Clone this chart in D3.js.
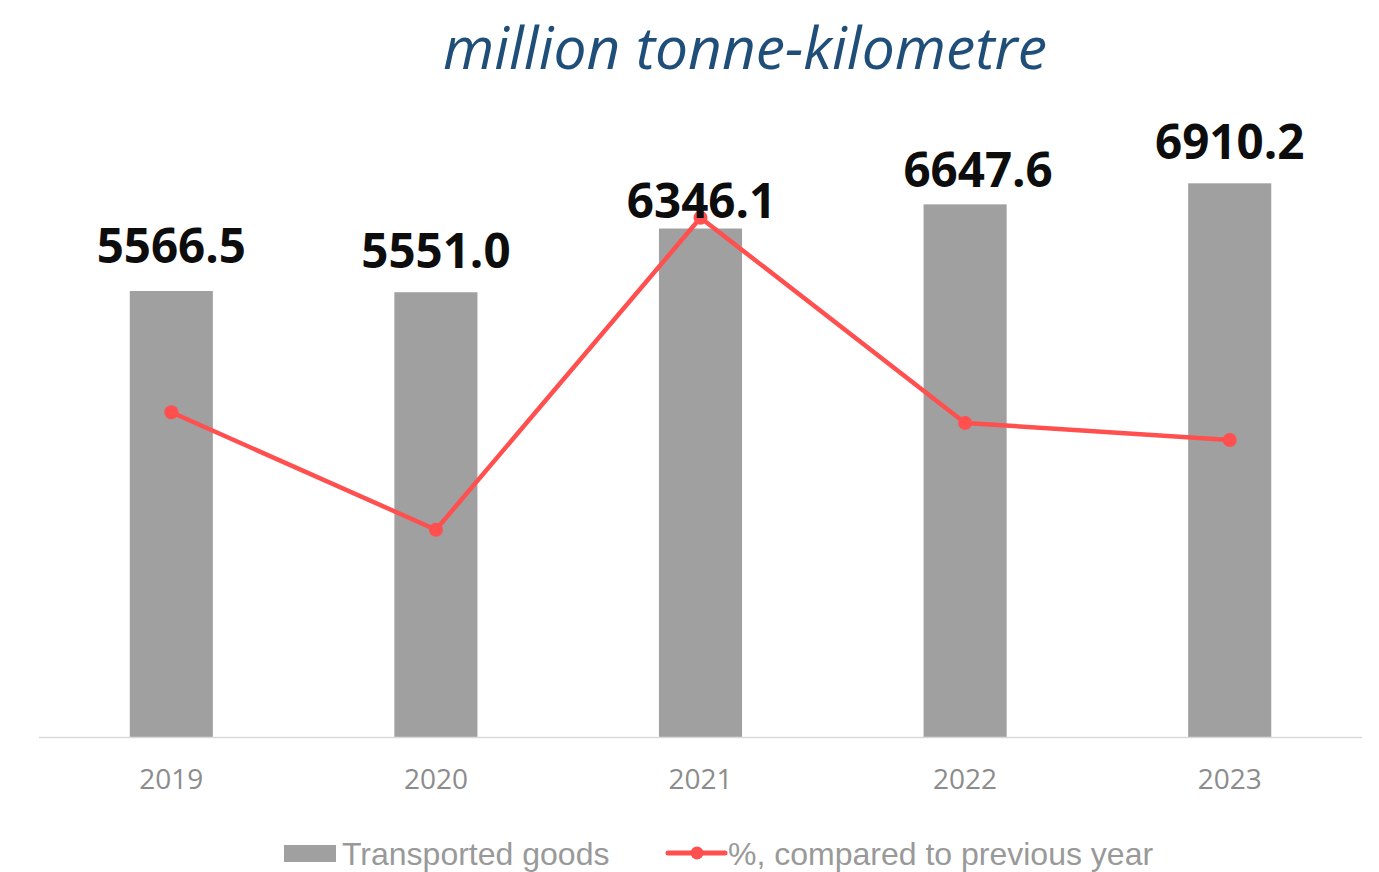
<!DOCTYPE html>
<html>
<head>
<meta charset="utf-8">
<script src="https://cdn.jsdelivr.net/npm/d3@7"></script>
<style>
  body { margin: 0; background: #fff; }
  svg { display: block; }
</style>
</head>
<body>
<svg id="chart"></svg>
<script>
// Data
const years = ["2019", "2020", "2021", "2022", "2023"];
const goods = [5566.5, 5551.0, 6346.1, 6647.6, 6910.2];
const pctPrev = [105.2, 99.7, 114.3, 104.7, 103.9];

// layout tweaks: value labels were nudged by hand in the original
const labelGap = [28, 24, 11, 17, 24];
const labelDx = [0, 0, 1, 13, 0];

const width = 1379, height = 872;
const margin = { top: 96, right: 17, bottom: 135, left: 39 };

const svg = d3.select("#chart").attr("width", width).attr("height", height);

const x = d3.scaleBand()
  .domain(years)
  .range([margin.left, width - margin.right])
  .paddingInner(0.686)
  .paddingOuter(0.343);

const y = d3.scaleLinear().domain([0, 8000]).range([height - margin.bottom, margin.top]);
const y2 = d3.scaleLinear().domain([90, 120]).range([height - margin.bottom, margin.top]);

// Title, shrunk to fit the width it takes in the original
const title = svg.append("text")
  .attr("x", 745)
  .attr("y", 69)
  .attr("text-anchor", "middle")
  .style("font-family", "'Open Sans', sans-serif")
  .style("font-style", "italic")
  .style("font-size", "52px")
  .style("fill", "#1F4E79")
  .text("million tonne-kilometre");
const tw = title.node().getComputedTextLength();
title.style("font-size", (52 * 604 / tw) + "px");

// Bars
svg.append("g").selectAll("rect")
  .data(goods)
  .join("rect")
  .attr("x", (d, i) => x(years[i]))
  .attr("width", x.bandwidth())
  .attr("y", d => y(d))
  .attr("height", d => y(0) - y(d))
  .attr("fill", "#A0A0A0");

// X axis
const xAxis = svg.append("g")
  .attr("transform", `translate(0,${y(0)})`)
  .call(d3.axisBottom(x).tickSize(0).tickPadding(0));
xAxis.select(".domain")
  .attr("d", `M${margin.left},0.5H${width - margin.right}`)
  .attr("stroke", "#D9D9D9")
  .attr("stroke-width", 1.5);
xAxis.selectAll("text")
  .attr("dy", null)
  .attr("y", 52)
  .style("font-family", "'Open Sans', sans-serif")
  .style("font-size", "28px")
  .style("fill", "#8C8C8C");

// Line
const line = d3.line()
  .x((d, i) => x(years[i]) + x.bandwidth() / 2)
  .y(d => y2(d));

svg.append("path")
  .datum(pctPrev)
  .attr("d", line)
  .attr("fill", "none")
  .attr("stroke", "#FF4F4F")
  .attr("stroke-width", 4.5)
  .attr("stroke-linejoin", "round");

svg.append("g").selectAll("circle")
  .data(pctPrev)
  .join("circle")
  .attr("cx", (d, i) => x(years[i]) + x.bandwidth() / 2)
  .attr("cy", d => y2(d))
  .attr("r", 7)
  .attr("fill", "#FF4F4F");

// Value labels
svg.append("g").selectAll("text")
  .data(goods)
  .join("text")
  .attr("x", (d, i) => x(years[i]) + x.bandwidth() / 2 + labelDx[i])
  .attr("y", (d, i) => y(d) - labelGap[i])
  .attr("text-anchor", "middle")
  .style("font-family", "'Open Sans', sans-serif")
  .style("font-weight", "bold")
  .style("font-size", "47.5px")
  .style("fill", "#0D0D0D")
  .text(d => d.toFixed(1));

// Legend
const legend = svg.append("g")
  .style("font-family", "'Liberation Sans', Arial, sans-serif")
  .style("font-size", "32px")
  .style("fill", "#999999");

legend.append("rect")
  .attr("x", 284).attr("y", 845)
  .attr("width", 52).attr("height", 17)
  .attr("fill", "#A0A0A0");
legend.append("text")
  .attr("x", 342).attr("y", 865)
  .text("Transported goods");

legend.append("line")
  .attr("x1", 668).attr("x2", 725)
  .attr("y1", 853).attr("y2", 853)
  .attr("stroke", "#FF4F4F")
  .attr("stroke-width", 5)
  .attr("stroke-linecap", "round");
legend.append("circle")
  .attr("cx", 697).attr("cy", 853).attr("r", 6.5)
  .attr("fill", "#FF4F4F");
legend.append("text")
  .attr("x", 728).attr("y", 865)
  .text("%, compared to previous year");
</script>
</body>
</html>
